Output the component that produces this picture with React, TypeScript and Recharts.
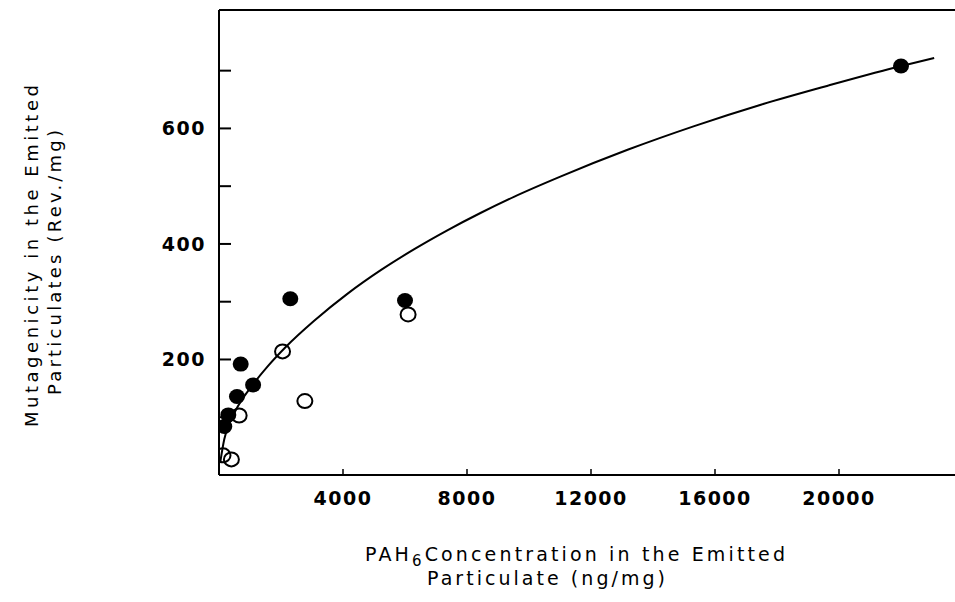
import React from 'react';
import { ComposedChart, Scatter, Line, XAxis, YAxis, ReferenceLine } from 'recharts';

// Tick values
const xTicks = [4000, 8000, 12000, 16000, 20000];
const yTicks = [100, 200, 300, 400, 500, 600, 700];
const yLabeled = [200, 400, 600];

// Filled circles
const filledX = [170, 300, 580, 700, 1100, 2300, 6000, 22000];
const filledY = [84, 104, 136, 192, 156, 305, 302, 708];

// Open circles
const openX = [130, 400, 650, 2050, 2770, 6100];
const openY = [34, 27, 103, 214, 128, 278];

// Fitted curve
const curveX = [40, 170, 330, 600, 1100, 1570, 2160, 3070, 4150, 5230, 6300, 7380, 8450, 9530, 11030, 13180, 15330, 17480, 19640, 21780, 23070];
const curveY = [22, 62, 88, 118, 157, 188, 222, 267, 314, 355, 391, 424, 454, 482, 517, 563, 604, 641, 674, 705, 722];

const filled = filledX.map((x, i) => ({ x, y: filledY[i] }));
const open = openX.map((x, i) => ({ x, y: openY[i] }));
const curve = curveX.map((x, i) => ({ x, y: curveY[i] }));

const FONT = '"DejaVu Sans", sans-serif';

const YTick = (props: any) => {
  const { x, y, payload } = props;
  const v = payload.value;
  return (
    <g>
      <line x1={x} x2={x + 12} y1={y} y2={y} stroke="#000" strokeWidth={2} />
      {yLabeled.includes(v) && (
        <text x={x - 13} y={y} dy={7} textAnchor="end" fontFamily={FONT} fontSize={19} fontWeight="bold" letterSpacing={1.5} fill="#000">
          {v}
        </text>
      )}
    </g>
  );
};

const XTick = (props: any) => {
  const { x, y, payload } = props;
  return (
    <g>
      <line x1={x} x2={x} y1={y} y2={y - 6} stroke="#000" strokeWidth={1.5} />
      <text x={x} y={y + 30} textAnchor="middle" fontFamily={FONT} fontSize={19} fontWeight="bold" letterSpacing={1.5} fill="#000">
        {payload.value}
      </text>
    </g>
  );
};

const FilledDot = (props: any) => {
  const { cx, cy } = props;
  return <ellipse cx={cx} cy={cy} rx={8} ry={7.5} fill="#000" />;
};

const OpenDot = (props: any) => {
  const { cx, cy } = props;
  return <ellipse cx={cx} cy={cy} rx={7.5} ry={7} fill="none" stroke="#000" strokeWidth={2} />;
};

export default function App() {
  return (
    <div style={{ position: 'absolute', left: 0, top: 0, width: 955, height: 602, overflow: 'hidden', background: '#fff' }}>
      <ComposedChart width={980} height={602} margin={{ top: 10, right: 17, bottom: 87, left: 0 }}>
        <XAxis
          type="number"
          dataKey="x"
          domain={[0, 24000]}
          ticks={xTicks}
          tickSize={0}
          tickMargin={0}
          tick={<XTick />}
          axisLine={{ stroke: '#000', strokeWidth: 2 }}
          tickLine={false}
          height={40}
          allowDataOverflow
        />
        <YAxis
          type="number"
          dataKey="y"
          domain={[0, 805]}
          ticks={yTicks}
          tickSize={0}
          tickMargin={0}
          tick={<YTick />}
          axisLine={{ stroke: '#000', strokeWidth: 2 }}
          tickLine={false}
          width={219}
          allowDataOverflow
        />
        <ReferenceLine y={805} stroke="#000" strokeWidth={2} />
        <Line data={curve} dataKey="y" type="monotone" stroke="#000" strokeWidth={2} dot={false} activeDot={false} isAnimationActive={false} />
        <Scatter data={open} dataKey="y" shape={<OpenDot />} isAnimationActive={false} />
        <Scatter data={filled} dataKey="y" shape={<FilledDot />} isAnimationActive={false} />
      </ComposedChart>
      <svg width={955} height={602} style={{ position: 'absolute', left: 0, top: 0, pointerEvents: 'none' }}>
        <text x={365} y={561} fontFamily={FONT} fontSize={19} fill="#000" textLength={420} lengthAdjust="spacing">
          PAH<tspan fontSize={15} dy={5}>6</tspan><tspan dy={-5}>Concentration in the Emitted</tspan>
        </text>
        <text x={427} y={585} fontFamily={FONT} fontSize={19} fill="#000" textLength={238} lengthAdjust="spacing">
          Particulate (ng/mg)
        </text>
        <text transform="translate(38,427) rotate(-90)" x={0} y={0} fontFamily={FONT} fontSize={18} fill="#000" textLength={342} lengthAdjust="spacing">
          Mutagenicity in the Emitted
        </text>
        <text transform="translate(61,395) rotate(-90)" x={0} y={0} fontFamily={FONT} fontSize={18} fill="#000" textLength={265} lengthAdjust="spacing">
          Particulates (Rev./mg)
        </text>
      </svg>
    </div>
  );
}
